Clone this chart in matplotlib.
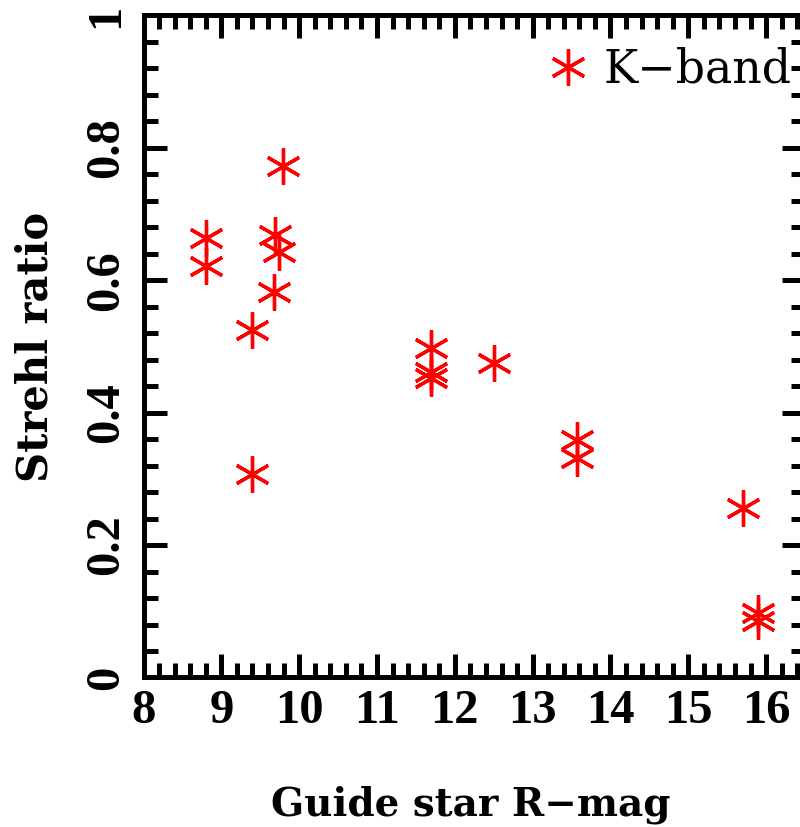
import matplotlib
matplotlib.use("Agg")
import matplotlib.pyplot as plt
from matplotlib.ticker import MultipleLocator

# guide star R magnitude and K-band Strehl ratio
rmag = [8.8, 8.8, 9.39, 9.39, 9.69, 9.745, 9.68, 9.79,
        11.69, 11.69, 11.69, 12.5, 13.57, 13.57, 15.7, 15.89, 15.89]
strehl = [0.664, 0.621, 0.525, 0.308, 0.668, 0.643, 0.582, 0.773,
          0.497, 0.462, 0.452, 0.475, 0.359, 0.331, 0.256, 0.097, 0.086]

x_ticks = [8, 9, 10, 11, 12, 13, 14, 15, 16]
y_ticks = [0, 0.2, 0.4, 0.6, 0.8, 1]
y_tick_labels = ["0", "0.2", "0.4", "0.6", "0.8", "1"]

slab = ["DejaVu Serif"]
serif = ["Liberation Serif", "DejaVu Serif"]

fig = plt.figure(figsize=(8, 8.27), dpi=100)
ax = fig.add_axes([0.1794, 0.1808, 0.8269, 0.8005])

ax.plot(rmag, strehl, linestyle="none", marker=(6, 2, 0), markersize=26,
        markeredgewidth=2.4, color="#ff0000", label="K\u2212band")

ax.set_xlim(8, 16.5)
ax.set_ylim(0, 1)
ax.set_xticks(x_ticks)
ax.set_yticks(y_ticks)
ax.set_yticklabels(y_tick_labels)
ax.xaxis.set_minor_locator(MultipleLocator(0.2))
ax.yaxis.set_minor_locator(MultipleLocator(0.04))

for s in ax.spines.values():
    s.set_linewidth(3.6)

ax.tick_params(which="both", direction="in", top=True, right=True,
               width=3.6, color="black")
ax.tick_params(which="major", length=16.5)
ax.tick_params(which="minor", length=10)
ax.tick_params(axis="x", which="major", pad=8)
ax.tick_params(axis="y", which="major", pad=11)

for lab in ax.get_xticklabels():
    lab.set_fontfamily(serif)
    lab.set_fontweight("bold")
    lab.set_fontsize(35)
for lab in ax.get_yticklabels():
    lab.set_fontfamily(serif)
    lab.set_fontweight("bold")
    lab.set_fontsize(35)
    lab.set_rotation(90)
    lab.set_va("center")

ax.set_xlabel("Guide star R\u2212mag", fontfamily=slab, fontweight="bold",
              fontsize=28)
ax.set_ylabel("Strehl ratio", fontfamily=slab, fontweight="bold", fontsize=30)
ax.xaxis.set_label_coords(0.494, -0.163)
ax.yaxis.set_label_coords(-0.132, 0.5)

ax.legend(loc="center left", bbox_to_anchor=(0.6085, 0.9177), frameon=False,
          numpoints=1, handlelength=0.95, handletextpad=0.3, borderpad=0,
          borderaxespad=0, prop={"family": slab, "size": 33})

fig.savefig("out.png", dpi=100)
